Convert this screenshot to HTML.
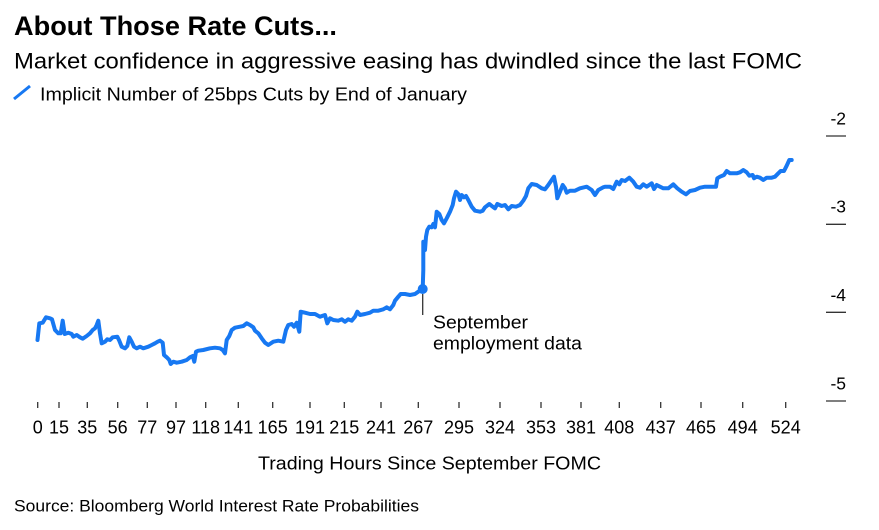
<!DOCTYPE html>
<html><head><meta charset="utf-8"><style>
html,body{margin:0;padding:0;background:#fff;}
svg{display:block;font-family:"Liberation Sans",Arial,sans-serif;}
</style></head><body>
<svg width="879" height="530" viewBox="0 0 879 530" xmlns="http://www.w3.org/2000/svg">
<rect width="879" height="530" fill="#fff"/>
<text x="14" y="35" font-size="26.5" font-weight="bold" fill="#000" textLength="323" lengthAdjust="spacingAndGlyphs">About Those Rate Cuts...</text>
<text x="14" y="68.5" font-size="22.5" fill="#000" textLength="788" lengthAdjust="spacingAndGlyphs">Market confidence in aggressive easing has dwindled since the last FOMC</text>
<line x1="14" y1="99" x2="30" y2="86" stroke="#1778f2" stroke-width="3"/>
<text x="40" y="100.5" font-size="18.5" fill="#000" textLength="427" lengthAdjust="spacingAndGlyphs">Implicit Number of 25bps Cuts by End of January</text>

<!-- y axis -->
<g stroke="#333" stroke-width="1.3">
<line x1="826" y1="136" x2="846" y2="136"/>
<line x1="826" y1="224.3" x2="846" y2="224.3"/>
<line x1="826" y1="312.3" x2="846" y2="312.3"/>
<line x1="826" y1="401" x2="846" y2="401"/>
</g>
<g font-size="17.5" fill="#000" text-anchor="end">
<text x="846" y="124.5">-2</text>
<text x="846" y="212.7">-3</text>
<text x="846" y="301">-4</text>
<text x="846" y="389.3">-5</text>
</g>

<!-- x axis ticks -->
<g stroke="#333" stroke-width="1.3">
<line x1="37.7" y1="402" x2="37.7" y2="408"/>
<line x1="59" y1="402" x2="59" y2="408"/>
<line x1="87.3" y1="402" x2="87.3" y2="408"/>
<line x1="117.7" y1="402" x2="117.7" y2="408"/>
<line x1="147.3" y1="402" x2="147.3" y2="408"/>
<line x1="176" y1="402" x2="176" y2="408"/>
<line x1="205.7" y1="402" x2="205.7" y2="408"/>
<line x1="238.3" y1="402" x2="238.3" y2="408"/>
<line x1="272.7" y1="402" x2="272.7" y2="408"/>
<line x1="310" y1="402" x2="310" y2="408"/>
<line x1="344.3" y1="402" x2="344.3" y2="408"/>
<line x1="381" y1="402" x2="381" y2="408"/>
<line x1="418.3" y1="402" x2="418.3" y2="408"/>
<line x1="459" y1="402" x2="459" y2="408"/>
<line x1="500" y1="402" x2="500" y2="408"/>
<line x1="541" y1="402" x2="541" y2="408"/>
<line x1="581" y1="402" x2="581" y2="408"/>
<line x1="619.3" y1="402" x2="619.3" y2="408"/>
<line x1="660.7" y1="402" x2="660.7" y2="408"/>
<line x1="701" y1="402" x2="701" y2="408"/>
<line x1="742.7" y1="402" x2="742.7" y2="408"/>
<line x1="785.7" y1="402" x2="785.7" y2="408"/>
</g>
<g font-size="18" fill="#000" text-anchor="middle">
<text x="37.7" y="433.5">0</text>
<text x="59" y="433.5">15</text>
<text x="87.3" y="433.5">35</text>
<text x="117.7" y="433.5">56</text>
<text x="147.3" y="433.5">77</text>
<text x="176" y="433.5">97</text>
<text x="205.7" y="433.5">118</text>
<text x="238.3" y="433.5">141</text>
<text x="272.7" y="433.5">165</text>
<text x="310" y="433.5">191</text>
<text x="344.3" y="433.5">215</text>
<text x="381" y="433.5">241</text>
<text x="418.3" y="433.5">267</text>
<text x="459" y="433.5">295</text>
<text x="500" y="433.5">324</text>
<text x="541" y="433.5">353</text>
<text x="581" y="433.5">381</text>
<text x="619.3" y="433.5">408</text>
<text x="660.7" y="433.5">437</text>
<text x="701" y="433.5">465</text>
<text x="742.7" y="433.5">494</text>
<text x="785.7" y="433.5">524</text>
</g>
<text x="258" y="469.5" font-size="18.5" fill="#000" textLength="343" lengthAdjust="spacingAndGlyphs">Trading Hours Since September FOMC</text>
<text x="14" y="511.5" font-size="17" fill="#000" textLength="405" lengthAdjust="spacingAndGlyphs">Source: Bloomberg World Interest Rate Probabilities</text>

<!-- annotation -->
<line x1="422.7" y1="294" x2="422.7" y2="315" stroke="#333" stroke-width="1.3"/>
<text x="433" y="328.5" font-size="18.5" fill="#000" textLength="95" lengthAdjust="spacingAndGlyphs">September</text>
<text x="433" y="349.5" font-size="18.5" fill="#000" textLength="149" lengthAdjust="spacingAndGlyphs">employment data</text>

<!-- series -->
<polyline fill="none" stroke="#1778f2" stroke-width="4" stroke-linejoin="round" stroke-linecap="round" points="
37.5,340 39.3,323.3 42.7,322.7 46,317.3 50,318.3 52,319.3 55,330 58.3,333.3 60.7,333.3 62.7,320.7 64.7,334 68.3,332.7 71.7,334 73.3,336.7 76.7,335 80,337.3 82.7,338.7 86.7,336 90,333.3 92.7,330 95,328.3 96.7,325 98.3,320.7 100,333.3 101.7,343.3 105,341.7 107.3,339.3 110,340 112.7,337.3 117.3,336.7 119.3,340.7 121.7,346.7 125,348.3 127.3,346 129.3,337.3 131.7,341.7 134,346.7 136.7,348.3 140,346.7 143.3,348.3 148.3,346.7 151.7,345 155,343.3 157.7,341.7 160,340.7 162.7,342.7 164,355 166.7,357.3 169.3,360 170.7,364 173.3,361.7 176.7,362.7 181.7,361.7 186.7,360 190,357.3 192.7,356 194.3,361.7 196,351.7 198.3,350.7 203.3,350 210,348.3 215,347.7 220,348.3 222.7,350 225,353.3 226.7,340 229.3,336 231.7,330 235,327.7 240,326.7 243.3,326 246.7,323.3 250,325 253.3,327.3 255,330.7 258.3,333.3 261.7,338.3 265,342.7 268.3,345 273.3,341.7 278.3,340.7 283.3,341.7 286,330 288.3,325 291.7,324 294,326.7 296.7,322.7 299.3,331.7 300.7,311.7 305,312.7 310,314 315,314 320,316.7 325,315 327.3,323.3 330,318.3 333.3,320 338.3,320.7 341.7,319.3 345,321.7 348.3,319.3 351.7,320.7 355,316.7 357.3,311.7 360,315 365,314 370,312.7 373.3,310.7 378.3,310.7 383.3,309.3 386.7,307.3 390,309.3 393.3,305 395,300.7 398.3,296.7 400.7,294 405,294 410,295 415,294 418.3,291.7 422.7,289 423.3,270 423.3,241.7 425,250 426,236.7 427.3,230 429.3,226.7 431.7,227.3 433.3,224 435,227.3 436.7,211.7 439.3,214 441.7,220 444,223.3 446.7,218.3 450,211.7 452.7,205 454,198.3 456,191.7 458.3,194 460,200 461.7,195 464,197.3 466,196 468.3,200 471.7,206.7 475,210.7 480,211.7 482.7,210.7 485,207.3 489.3,204 492.7,206.7 495,208.3 497.3,204 501.7,206 505,205 508.3,209.3 511.7,206 516,206.7 520,205 523.3,200.7 526,196 528.3,188.3 531.7,184 536.7,185 541.7,188.3 545,189.3 548.3,185 551.7,180 554,176.7 556,186.7 557.3,198.3 560,191.7 562.7,185 565,188.3 566.7,192.7 570,190.7 575,190.7 580,188.3 586.7,186.7 591.7,190 595,195 598.3,190 603.3,187.3 605,186.7 610,186.7 613.3,189 616.7,181.7 619.3,184.3 621.7,180 625,181 629.3,177.7 633.3,181.7 636.7,186.7 640,187.7 643.3,184.3 646.7,186.7 651.7,183.3 654,189 656.7,185 660,186.7 663.3,188.3 668.3,188.3 673.3,184.3 677.3,188.3 681.7,191.7 686,194.3 690,191 695,190 700,187.7 705,186.7 716,186.7 717.3,178.3 720,176.7 724,175 726.7,171 730,173.3 736.7,173.3 740,172.3 743.3,170 746.7,172.3 749.3,175.7 752.7,175 754,178.3 756.7,176.7 760,177.7 763.3,180 766.7,177.7 771.7,177.7 775,176.7 778.3,173.3 780.7,171 784,171 786.7,165.7 789.3,160 791.7,160"/>
<circle cx="422.7" cy="289" r="5" fill="#1778f2"/>
</svg>
</body></html>
